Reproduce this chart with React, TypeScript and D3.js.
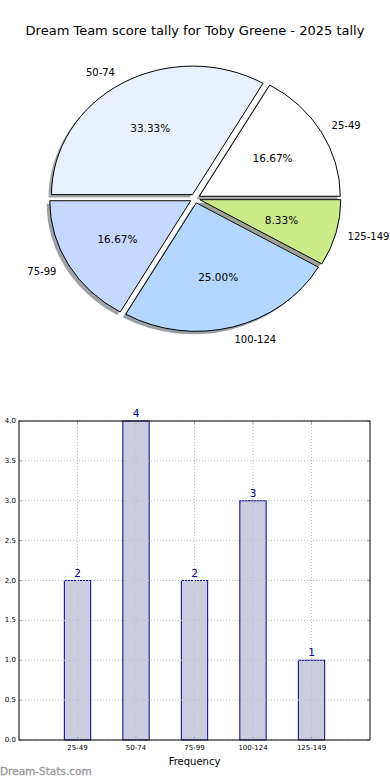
import { useEffect, useRef } from 'react';
import * as d3 from 'd3';

const categories = ['25-49', '50-74', '75-99', '100-124', '125-149'];
const counts = [2, 4, 2, 3, 1];
const pieColors = ['#ffffff', '#e9f1fe', '#c5d8fe', '#b4d7ff', '#cdea8b'];
const yTicks = [0, 0.5, 1, 1.5, 2, 2.5, 3, 3.5, 4];
const title = 'Dream Team score tally for Toby Greene - 2025 tally';

const App = () => {
  const svgRef = useRef<SVGSVGElement>(null);

  useEffect(() => {
    const svg = d3.select(svgRef.current);
    svg.selectAll('*').remove();
    const font = 'DejaVu Sans, sans-serif';

    svg.append('rect').attr('width', 390).attr('height', 780).attr('fill', '#fff');

    // Titulo
    svg.append('text')
      .attr('x', 195).attr('y', 30)
      .attr('text-anchor', 'middle').attr('dominant-baseline', 'central')
      .style('font-family', font).style('font-size', '13px')
      .text(title);

    // Pie (eliptico, como matplotlib sin axis equal)
    const cx = 195, cy = 198.5, rx = 141, ry = 128.5;
    const explode = 0.035;
    const pie = d3.pie<number>().sort(null)
      .startAngle(Math.PI / 2).endAngle(Math.PI / 2 - 2 * Math.PI);
    const arcs = pie(counts);
    const arc = d3.arc<d3.PieArcDatum<number>>().innerRadius(0).outerRadius(1);
    const total = d3.sum(counts);

    const pieG = svg.append('g').attr('transform', `translate(${cx},${cy})`);
    const mid = (d: d3.PieArcDatum<number>) => (d.startAngle + d.endAngle) / 2;
    const off = (d: d3.PieArcDatum<number>) => [explode * Math.sin(mid(d)), -explode * Math.cos(mid(d))];

    // sombras
    arcs.forEach((d, i) => {
      const [ox, oy] = off(d);
      const c = d3.rgb(pieColors[i]);
      pieG.append('path')
        .attr('transform', `translate(-3,3) scale(${rx},${ry}) translate(${ox},${oy})`)
        .attr('d', arc(d) as string)
        .attr('fill', d3.rgb(c.r * 0.3, c.g * 0.3, c.b * 0.3).toString())
        .attr('fill-opacity', 0.5);
    });
    arcs.forEach((d, i) => {
      const [ox, oy] = off(d);
      pieG.append('path')
        .attr('transform', `scale(${rx},${ry}) translate(${ox},${oy})`)
        .attr('d', arc(d) as string)
        .attr('fill', pieColors[i])
        .attr('stroke', '#000')
        .attr('stroke-width', 1)
        .attr('vector-effect', 'non-scaling-stroke');
    });
    arcs.forEach((d, i) => {
      const [ox, oy] = off(d);
      const s = Math.sin(mid(d)), c = -Math.cos(mid(d));
      pieG.append('text')
        .attr('x', (ox + 1.1 * s) * rx - (s > 0 ? 2 : 0)).attr('y', (oy + 1.1 * c) * ry)
        .attr('text-anchor', s > 0 ? 'start' : 'end')
        .attr('dominant-baseline', 'central')
        .style('font-family', font).style('font-size', '10px')
        .text(categories[i]);
      pieG.append('text')
        .attr('x', (ox + 0.6 * s) * rx).attr('y', (oy + 0.6 * c) * ry)
        .attr('text-anchor', 'middle')
        .attr('dominant-baseline', 'central')
        .style('font-family', font).style('font-size', '10.5px')
        .text(d3.format('.2f')((counts[i] / total) * 100) + '%');
    });

    // Barras
    const left = 19, right = 370, top = 421, bottom = 740;
    const x = d3.scaleLinear().domain([-1, 5]).range([left, right]);
    const y = d3.scaleLinear().domain([0, 4]).range([bottom, top]);
    const bw = (x(1) - x(0)) * 0.45;
    const g = svg.append('g');

    g.selectAll('rect.bar').data(counts).join('rect')
      .attr('class', 'bar')
      .attr('x', (_, i) => x(i) - bw / 2)
      .attr('y', d => y(d))
      .attr('width', bw)
      .attr('height', d => y(0) - y(d))
      .attr('fill', '#ccccdf')
      .attr('stroke', '#00008b')
      .attr('stroke-width', 1);

    // grid
    yTicks.forEach(t => {
      g.append('line')
        .attr('x1', left).attr('x2', right)
        .attr('y1', y(t)).attr('y2', y(t))
        .attr('stroke', '#bdbdbd').attr('stroke-dasharray', '1,2');
      g.append('line').attr('x1', left).attr('x2', left + 3).attr('y1', y(t)).attr('y2', y(t)).attr('stroke', '#aaa');
      g.append('line').attr('x1', right - 3).attr('x2', right).attr('y1', y(t)).attr('y2', y(t)).attr('stroke', '#aaa');
      g.append('text')
        .attr('x', left - 3).attr('y', y(t))
        .attr('text-anchor', 'end').attr('dominant-baseline', 'central')
        .style('font-family', font).style('font-size', '7px')
        .text(d3.format('.1f')(t));
    });
    categories.forEach((c, i) => {
      g.append('line')
        .attr('x1', x(i)).attr('x2', x(i))
        .attr('y1', top).attr('y2', bottom)
        .attr('stroke', '#bdbdbd').attr('stroke-dasharray', '1,2');
      g.append('line').attr('x1', x(i)).attr('x2', x(i)).attr('y1', top).attr('y2', top + 3).attr('stroke', '#aaa');
      g.append('line').attr('x1', x(i)).attr('x2', x(i)).attr('y1', bottom - 3).attr('y2', bottom).attr('stroke', '#aaa');
      g.append('text')
        .attr('x', x(i)).attr('y', bottom + 8)
        .attr('text-anchor', 'middle').attr('dominant-baseline', 'central')
        .style('font-family', font).style('font-size', '7px')
        .text(c);
    });

    // valores
    counts.forEach((v, i) => {
      g.append('text')
        .attr('x', x(i)).attr('y', y(v) - 4)
        .attr('text-anchor', 'middle')
        .style('font-family', font).style('font-size', '10.5px')
        .attr('fill', '#00008b')
        .text(v);
    });

    g.append('rect')
      .attr('x', left).attr('y', top)
      .attr('width', right - left).attr('height', bottom - top)
      .attr('fill', 'none').attr('stroke', '#000');

    g.append('text')
      .attr('x', (left + right) / 2).attr('y', 761)
      .attr('text-anchor', 'middle').attr('dominant-baseline', 'central')
      .style('font-family', font).style('font-size', '10px')
      .text('Frequency');

    svg.append('text')
      .attr('x', 0).attr('y', 771)
      .attr('dominant-baseline', 'central')
      .style('font-family', font).style('font-size', '10.5px')
      .attr('fill', '#999')
      .attr('stroke', '#999').attr('stroke-width', 0.3)
      .text('Dream-Stats.com');
  }, []);

  return (
    <svg ref={svgRef} width={390} height={780}
      style={{ position: 'absolute', left: 0, top: 0 }} />
  );
};

export default App;
